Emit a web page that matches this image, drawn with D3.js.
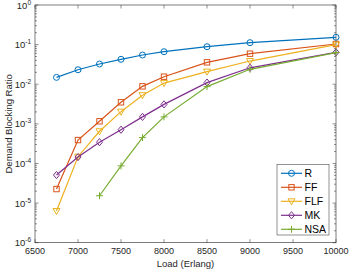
<!DOCTYPE html>
<html><head><meta charset="utf-8">
<script src="https://cdn.jsdelivr.net/npm/d3@7"></script>
<style>body{margin:0;background:#fff}svg{display:block;font-family:"Liberation Sans",Arial,sans-serif}</style>
</head><body>
<svg id="c" width="350" height="271"></svg>
<script>
const loads = [6750, 7000, 7250, 7500, 7750, 8000, 8500, 9000, 10000];
const seriesNames = ["R", "FF", "FLF", "MK", "NSA"];
const R   = [0.0149, 0.0232, 0.0324, 0.0426, 0.0546, 0.0662, 0.0885, 0.112, 0.153];
const FF  = [2.26e-5, 3.9e-4, 1.16e-3, 3.5e-3, 8.85e-3, 0.0155, 0.0357, 0.059, 0.1035];
const FLF = [6.3e-6, 1.48e-4, 6.5e-4, 2.03e-3, 5.3e-3, 0.0107, 0.0208, 0.0385, 0.1];
const MK  = [5.1e-5, 1.45e-4, 3.45e-4, 7.1e-4, 1.5e-3, 3.1e-3, 0.011, 0.026, 0.064];
const NSA = [null, null, 1.53e-5, 8.7e-5, 4.5e-4, 1.5e-3, 8.7e-3, 0.0238, 0.063];
const xTicks = [6500, 7000, 7500, 8000, 8500, 9000, 9500, 10000];
const yExps = [0, -1, -2, -3, -4, -5, -6];
const colors = ["#0072BD", "#D95319", "#EDB120", "#7E2F8E", "#77AC30"];
const markers = ["circle", "square", "triangle", "diamond", "plus"];

const svg = d3.select("#c");
const L = 35, Rr = 336, T = 5, B = 242.7;
const x = d3.scaleLinear().domain([6500, 10000]).range([L, Rr]);
const y = d3.scaleLog().domain([1e-6, 1]).range([B, T]);
const axc = "#262626";

const minors = [];
for (let e = -6; e < 0; e++) for (let k = 2; k <= 9; k++) minors.push(k * Math.pow(10, e));
const g = svg.append("g");
minors.forEach(v => {
  g.append("line").attr("x1", L).attr("x2", L + 2).attr("y1", y(v)).attr("y2", y(v)).attr("stroke", axc).attr("stroke-width", 0.5);
  g.append("line").attr("x1", Rr).attr("x2", Rr - 2).attr("y1", y(v)).attr("y2", y(v)).attr("stroke", axc).attr("stroke-width", 0.5);
});
yExps.forEach(e => {
  const v = Math.pow(10, e);
  g.append("line").attr("x1", L).attr("x2", L + 3.5).attr("y1", y(v)).attr("y2", y(v)).attr("stroke", axc).attr("stroke-width", 0.5);
  g.append("line").attr("x1", Rr).attr("x2", Rr - 3.5).attr("y1", y(v)).attr("y2", y(v)).attr("stroke", axc).attr("stroke-width", 0.5);
  const t = g.append("text").attr("x", L - 4).attr("y", y(v) + 3.5).attr("text-anchor", "end").attr("font-size", 9.5).attr("fill", axc);
  t.append("tspan").text("10");
  t.append("tspan").attr("dy", -4).attr("font-size", 6.5).text(e);
});
xTicks.forEach(v => {
  g.append("line").attr("x1", x(v)).attr("x2", x(v)).attr("y1", B).attr("y2", B - 3.5).attr("stroke", axc).attr("stroke-width", 0.5);
  g.append("line").attr("x1", x(v)).attr("x2", x(v)).attr("y1", T).attr("y2", T + 3.5).attr("stroke", axc).attr("stroke-width", 0.5);
  g.append("text").attr("x", x(v)).attr("y", B + 11.5).attr("text-anchor", "middle").attr("font-size", 9).attr("fill", axc).text(v);
});
g.append("rect").attr("x", L).attr("y", T).attr("width", Rr - L).attr("height", B - T).attr("fill", "none").attr("stroke", axc).attr("stroke-width", 0.6);

svg.append("text").attr("x", (L + Rr) / 2).attr("y", 267).attr("text-anchor", "middle").attr("font-size", 9.5).attr("fill", axc).text("Load (Erlang)");
svg.append("text").attr("transform", `translate(12,${(T + B) / 2}) rotate(-90)`).attr("text-anchor", "middle").attr("font-size", 9.5).attr("fill", axc).text("Demand Blocking Ratio");

function drawMarker(sel, type, cx, cy, col) {
  if (type === "circle") sel.append("circle").attr("cx", cx).attr("cy", cy).attr("r", 3).attr("fill", "none").attr("stroke", col).attr("stroke-width", 1);
  else if (type === "square") sel.append("rect").attr("x", cx - 2.7).attr("y", cy - 2.7).attr("width", 5.4).attr("height", 5.4).attr("fill", "none").attr("stroke", col).attr("stroke-width", 1);
  else if (type === "triangle") sel.append("path").attr("d", `M${cx - 3.5},${cy - 2.5}L${cx + 3.5},${cy - 2.5}L${cx},${cy + 3.5}Z`).attr("fill", "none").attr("stroke", col).attr("stroke-width", 1);
  else if (type === "diamond") sel.append("path").attr("d", `M${cx},${cy - 3.6}L${cx + 3},${cy}L${cx},${cy + 3.6}L${cx - 3},${cy}Z`).attr("fill", "none").attr("stroke", col).attr("stroke-width", 1);
  else if (type === "plus") sel.append("path").attr("d", `M${cx - 3.5},${cy}L${cx + 3.5},${cy}M${cx},${cy - 3.5}L${cx},${cy + 3.5}`).attr("fill", "none").attr("stroke", col).attr("stroke-width", 1);
}

const allSeries = [R, FF, FLF, MK, NSA];
const line = d3.line().defined(d => d[1] != null).x(d => x(d[0])).y(d => y(d[1]));
const plot = svg.append("g");
allSeries.forEach((s, i) => {
  const pts = loads.map((l, j) => [l, s[j]]);
  plot.append("path").attr("d", line(pts)).attr("fill", "none").attr("stroke", colors[i]).attr("stroke-width", 1.2);
  pts.filter(p => p[1] != null).forEach(p => drawMarker(plot, markers[i], x(p[0]), y(p[1]), colors[i]));
});

const lg = svg.append("g");
lg.append("rect").attr("x", 277).attr("y", 164.5).attr("width", 52).attr("height", 70.5).attr("fill", "#fff").attr("stroke", axc).attr("stroke-width", 0.5);
seriesNames.forEach((n, i) => {
  const yy = 173.3 + i * 14;
  lg.append("line").attr("x1", 281).attr("x2", 302).attr("y1", yy).attr("y2", yy).attr("stroke", colors[i]).attr("stroke-width", 1.2);
  drawMarker(lg, markers[i], 291.5, yy, colors[i]);
  lg.append("text").attr("x", 304.5).attr("y", yy + 3.8).attr("font-size", 10.5).attr("fill", "#000").text(n);
});
</script>
</body></html>
